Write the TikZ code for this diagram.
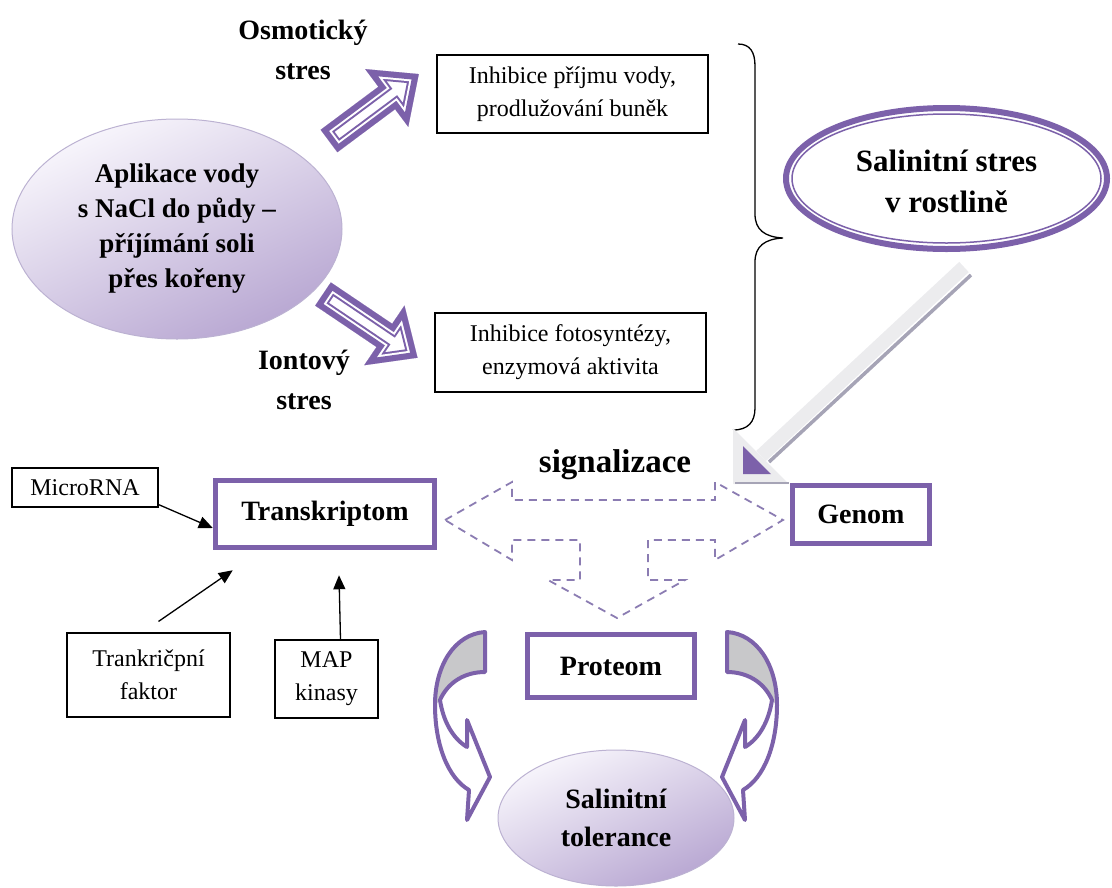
\documentclass[tikz,border=0pt]{standalone}
\usepackage{fontspec}
\setmainfont{Liberation Serif}
\usetikzlibrary{arrows.meta,shapes.geometric,calc}

\definecolor{vio}{RGB}{124,97,170}
\definecolor{viodash}{RGB}{139,124,178}
\definecolor{ltop}{RGB}{248,246,252}
\definecolor{lbot}{RGB}{184,167,210}
\definecolor{lrim}{RGB}{188,178,210}
\definecolor{pale}{RGB}{236,236,238}
\definecolor{shadegray}{RGB}{166,164,182}
\definecolor{backgray}{RGB}{200,200,202}

\tikzset{
  plainbox/.style={draw=black, line width=1.1pt, fill=white, inner sep=0pt, align=center,
    font=\fontsize{24}{33}\selectfont},
  viobox/.style={draw=vio, line width=5.5pt, fill=white, inner sep=0pt, align=center,
    font=\bfseries\fontsize{28}{34}\selectfont},
  blob/.style={ellipse, draw=lrim, line width=1pt, top color=ltop, bottom color=lbot,
    shading angle=25, inner sep=0pt, align=center},
  steplabel/.style={align=center, font=\bfseries\fontsize{28}{40}\selectfont},
  link/.style={-{Triangle[length=14pt,width=12pt]}, line width=1.3pt, black},
  signal/.style={draw=viodash, line width=1.8pt, dash pattern=on 8pt off 6pt, line join=miter},
  bent/.style={draw=vio, line width=4pt, line join=round},
}

% hollow block arrow with a double outline: tail point, angle, length
\newcommand\hollowarrow[3]{%
  \begin{scope}[shift={#1}, rotate=#2]
    \def\hp{(0,-14) -- (#3-40,-14) -- (#3-40,-36) -- (#3,0) -- (#3-40,36) -- (#3-40,14) -- (0,14) -- cycle}
    \fill[white] \hp;
    \begin{scope}
      \clip \hp;
      \draw[vio, line width=20pt, line join=miter] \hp;
      \draw[white, line width=16pt, line join=miter] \hp;
      \draw[vio, line width=12pt, line join=miter] \hp;
    \end{scope}
  \end{scope}}

% curved block arrow bending round the left side and pointing right
\newcommand\bentarrow{%
  \fill[white] (485,632) .. controls (455,634) and (435,665) .. (435,705)
    .. controls (435,745) and (448,778) .. (469,790) -- (467,820) -- (490,777)
    -- (467,720) -- (467,747) .. controls (452,738) and (443,720) .. (440,700)
    .. controls (448,682) and (465,672) .. (485,672) -- cycle;
  \fill[backgray] (485,632) .. controls (455,634) and (435,665) .. (435,705)
    -- (440,700) .. controls (448,682) and (465,672) .. (485,672) -- cycle;
  \draw[bent] (485,632) .. controls (455,634) and (435,665) .. (435,705)
    .. controls (435,745) and (448,778) .. (469,790) -- (467,820) -- (490,777)
    -- (467,720) -- (467,747) .. controls (452,738) and (443,720) .. (440,700)
    .. controls (448,682) and (465,672) .. (485,672) -- cycle;}

\begin{document}
\begin{tikzpicture}[x=1pt,y=-1pt]
\useasboundingbox (0,0) rectangle (1112,887);

% ---- upper part: salt uptake and the two stresses
\node[blob, minimum width=330pt, minimum height=220pt,
      font=\bfseries\fontsize{27}{35}\selectfont] (soil) at (177,229)
  {Aplikace vody\\s NaCl do půdy –\\příjímání soli\\přes kořeny};

\node[steplabel] (osm) at (303,50) {Osmotický\\stres};
\node[steplabel] (ion) at (304,380) {Iontový\\stres};

\hollowarrow{(329,141)}{36.7}{112}
\hollowarrow{(323,294)}{-34}{114}

\node[plainbox, minimum width=271pt, minimum height=78pt] (inh1) at (572.5,94)
  {Inhibice příjmu vody,\\prodlužování buněk};
\node[plainbox, minimum width=271pt, minimum height=79pt] (inh2) at (570.5,352.5)
  {Inhibice fotosyntézy,\\enzymová aktivita};

% brace collecting both effects
\draw[line width=1.3pt] (738,44) .. controls (750,44) and (755,52) .. (755,66)
  -- (755,214) .. controls (755,230) and (765,237) .. (783,238)
  .. controls (765,239) and (755,246) .. (755,262)
  -- (755,408) .. controls (755,422) and (748,430) .. (733,430);

% salinity stress in the plant
\node[ellipse, draw=vio, line width=6pt, fill=white, minimum width=321pt,
      minimum height=141pt, inner sep=0pt] (stress) at (946.5,178.5) {};
\draw[vio, line width=1.5pt] (stress.center) ellipse [x radius=154.5, y radius=64.5];
\node[align=center, font=\bfseries\fontsize{31}{41}\selectfont] at ([yshift=-3pt]stress.center)
  {Salinitní stres\\v rostlině};

% grey block arrow down to the genome
\coordinate (gstart) at (964,267);
\coordinate (gend) at (761,456);
\draw[pale, line width=14pt] (gstart) -- (gend);
\draw[shadegray, line width=3.5pt] (971,275) -- (769,462);
\fill[pale] (733,428) -- (733,484) -- (789,484) -- cycle;
\draw[shadegray, line width=1.5pt] (735,483) -- (789,483);
\fill[vio] (743,446) -- (743,474) -- (771,474) -- cycle;

% ---- lower part: signalling
\node[font=\bfseries\fontsize{33}{40}\selectfont] (sig) at (615,465) {signalizace};

\draw[signal] (445,520) -- (512,482) -- (512,500) -- (715,500) -- (715,482)
  -- (783,520) -- (715,560) -- (715,540) -- (648,540) -- (648,580) -- (685,580)
  -- (617,618) -- (548,580) -- (580,580) -- (580,540) -- (512,540) -- (512,560) -- cycle;

\node[viobox, minimum width=219pt, minimum height=67pt] (trans) at (325,514) {Transkriptom};
\node[viobox, minimum width=137pt, minimum height=58pt] (genom) at (861,514.5) {Genom};
\node[viobox, minimum width=167pt, minimum height=63pt] (prot) at (611,666) {Proteom};

\node[plainbox, minimum width=146pt, minimum height=39pt] (micro) at (85,487.5) {MicroRNA};
\node[plainbox, minimum width=163pt, minimum height=84pt] (tf) at (148.5,675) {Trankričpní\\faktor};
\node[plainbox, minimum width=103pt, minimum height=78pt] (map) at (326.5,679) {MAP\\kinasy};

\draw[link] ([yshift=3pt]micro.south east) -- ([yshift=-14pt]trans.west);
\coordinate (tfstart) at ([xshift=10pt,yshift=11pt]tf.north);
\coordinate (tfend) at ([xshift=20pt,yshift=-20pt]trans.south west);
\draw[link] (tfstart) -- (tfend);
\coordinate (mapend) at ([xshift=14pt,yshift=-25pt]trans.south);
\draw[link] ([xshift=14pt]map.north) -- (mapend);

% curved arrows round the proteome
\bentarrow
\begin{scope}[shift={(1212,0)}, xscale=-1]
  \bentarrow
\end{scope}

\node[blob, minimum width=236pt, minimum height=136pt,
      font=\bfseries\fontsize{28}{38}\selectfont] (tol) at (616,818)
  {Salinitní\\tolerance};
\end{tikzpicture}
\end{document}
